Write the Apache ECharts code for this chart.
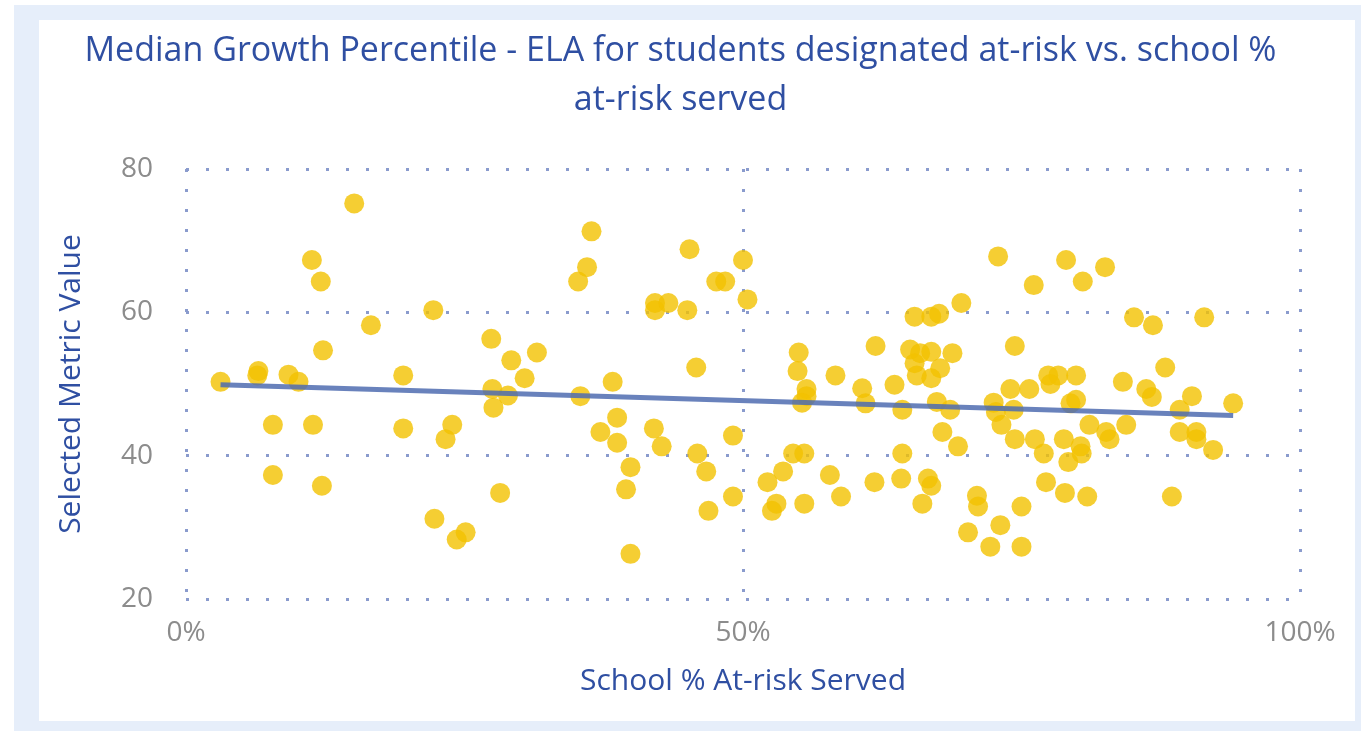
<!DOCTYPE html>
<html>
<head>
<meta charset="utf-8">
<script src="https://cdn.jsdelivr.net/npm/echarts@6/dist/echarts.min.js"></script>
<style>
html,body{margin:0;padding:0;background:#fff;width:1361px;height:731px;overflow:hidden;}
#frame{position:absolute;left:14px;top:5px;width:1347px;height:726px;background:#E6EEFA;}
#inner{position:absolute;left:39px;top:20px;width:1316px;height:701px;background:#fff;}
#chart{position:absolute;left:0;top:0;width:1361px;height:731px;}
</style>
</head>
<body>
<div id="frame"></div>
<div id="inner"></div>
<div id="chart"></div>
<script>
// School % at-risk served (x, in %)
const schoolPct = [
 3.1,6.5,6.4,9.2,10.1,7.8,7.8,11.3,12.1,12.3,11.4,12.2,15.1,16.6,19.5,19.5,22.2,22.3,23.9,23.3,
 24.3,25.1,27.4,27.5,28.9,27.6,29.2,30.4,31.5,28.2,36.4,36.0,35.2,35.4,38.3,38.7,37.2,38.7,39.9,39.5,
 39.9,42.1,42.1,43.3,45.0,45.2,47.6,48.4,50.0,50.4,45.8,42.0,42.7,45.9,46.7,46.9,49.1,49.1,52.2,53.6,
 52.6,53.0,54.5,55.5,55.5,55.0,54.9,55.7,55.7,55.3,58.3,57.8,58.8,60.7,61.0,61.9,61.8,63.6,64.3,64.3,
 64.2,65.4,65.0,65.4,65.6,66.9,67.6,69.6,72.9,76.1,79.0,80.5,82.5,85.1,86.8,91.4,65.9,66.9,68.8,67.7,
 66.9,67.4,68.6,67.9,69.3,74.4,72.5,72.7,73.2,74.3,74.0,75.7,74.4,76.2,77.0,77.4,78.3,77.6,79.9,79.4,
 79.9,78.8,80.3,80.4,79.2,81.1,82.6,82.9,84.4,84.1,86.2,86.7,87.9,90.3,89.2,89.2,90.7,90.7,92.2,94.0,
 88.5,66.6,66.9,66.1,71.0,71.1,70.2,73.1,72.2,75.0,75.0,77.2,78.9,80.9
];
// Median growth percentile - ELA (y)
const metricValue = [
 50.3,51.8,51.2,51.3,50.3,44.3,37.3,67.3,64.3,54.7,44.3,35.8,75.2,58.2,51.2,43.8,60.3,31.2,44.3,42.3,
 28.3,29.3,56.3,49.3,48.4,46.7,53.3,50.8,54.4,34.8,71.3,66.3,64.3,48.3,50.3,45.3,43.3,41.8,38.4,35.3,
 26.3,61.3,60.3,61.3,60.3,68.8,64.3,64.3,67.3,61.8,52.3,43.8,41.3,40.3,37.8,32.3,42.8,34.3,36.3,37.8,
 32.3,33.3,40.3,40.3,33.3,54.4,51.8,49.3,48.3,47.4,51.2,37.3,34.3,49.4,47.3,55.3,36.3,49.9,46.4,40.3,
 36.8,59.4,54.8,52.9,51.2,59.4,59.8,61.3,67.8,63.8,67.3,64.3,66.3,59.3,58.2,59.3,54.3,54.5,54.3,52.2,
 50.8,47.5,46.4,43.3,41.3,55.3,47.4,46.1,44.3,46.4,49.3,49.3,42.3,42.3,40.3,51.2,51.2,50.0,51.2,47.3,
 47.8,42.3,41.3,40.3,39.1,44.3,43.3,42.3,44.3,50.3,49.3,48.2,52.3,48.3,46.4,43.3,43.3,42.3,40.8,47.3,
 34.3,36.8,35.8,33.3,34.4,32.9,29.3,30.3,27.3,32.9,27.3,36.3,34.8,34.3
];
const xTicks = [0, 50, 100];
const yTicks = [20, 40, 60, 80];
const titleText = 'Median Growth Percentile - ELA for students designated at-risk vs. school %\nat-risk served';
const xName = 'School % At-risk Served';
const yName = 'Selected Metric Value';

const pts = schoolPct.map((x, i) => [x, metricValue[i]]);
// Linear (least squares) trendline computed from the data
const n = pts.length;
let sx=0, sy=0, sxx=0, sxy=0;
pts.forEach(([x,y]) => { sx+=x; sy+=y; sxx+=x*x; sxy+=x*y; });
const slope = (n*sxy - sx*sy) / (n*sxx - sx*sx);
const icpt = (sy - slope*sx) / n;
const xmin = Math.min(...schoolPct), xmax = Math.max(...schoolPct);
const trend = [[xmin, icpt + slope*xmin], [xmax, icpt + slope*xmax]];

const FONT = "'Open Sans', 'Noto Sans', sans-serif";
const dotted = {color: '#8A9BCD', width: 3, type: [3, 17]};

const chart = echarts.init(document.getElementById('chart'));
chart.setOption({
  animation: false,
  title: {
    text: titleText, left: 'center', top: 22,
    textStyle: {color: '#2F4FA2', fontSize: 34, fontWeight: 'normal', fontFamily: FONT, lineHeight: 49}
  },
  grid: {left: 186, right: 61, top: 169, bottom: 132},
  xAxis: {
    type: 'value', min: 0, max: 100, interval: 50,
    axisLine: {show: false}, axisTick: {show: false},
    splitLine: {show: true, lineStyle: dotted},
    axisLabel: {color: '#8C8C8C', fontSize: 28, fontFamily: FONT, margin: 20,
      formatter: v => xTicks.includes(v) ? v + '%' : ''},
    name: xName, nameLocation: 'middle', nameGap: 67,
    nameTextStyle: {color: '#2F4FA2', fontSize: 30, fontFamily: FONT}
  },
  yAxis: {
    type: 'value', min: 20, max: 80, interval: 20,
    axisLine: {show: false}, axisTick: {show: false},
    splitLine: {show: true, lineStyle: dotted},
    axisLabel: {color: '#8C8C8C', fontSize: 28, fontFamily: FONT, margin: 33,
      formatter: v => yTicks.includes(v) ? String(v) : ''},
    name: yName, nameLocation: 'middle', nameGap: 100,
    nameTextStyle: {color: '#2F4FA2', fontSize: 30, fontFamily: FONT}
  },
  series: [
    {
      type: 'scatter', data: pts, symbolSize: 20,
      itemStyle: {color: '#F2C200', opacity: 0.8}, z: 2
    },
    {
      type: 'line', data: trend, symbol: 'none', z: 3,
      lineStyle: {color: '#4F6CB0', width: 5, opacity: 0.85}
    }
  ]
});
</script>
</body>
</html>
